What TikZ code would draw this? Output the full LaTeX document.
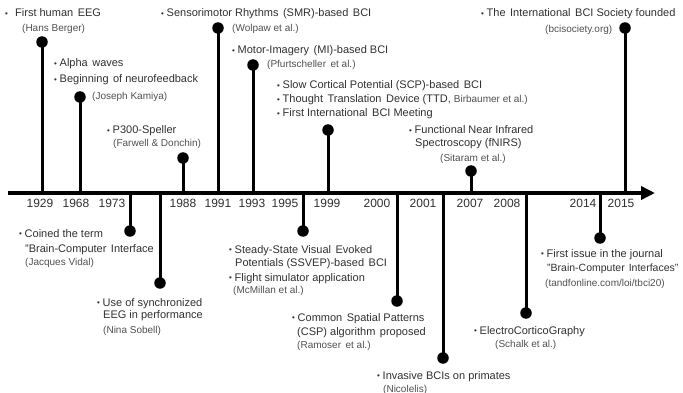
\documentclass[tikz,border=0pt]{standalone}
\usepackage{fontspec}
\setmainfont{Liberation Sans}
\usetikzlibrary{arrows.meta}
\definecolor{maintext}{HTML}{303030}
\definecolor{citetext}{HTML}{505050}
\newcommand\evbul{\makebox[5.5pt][l]{\fontsize{8}{8}\selectfont\raisebox{0.8pt}{•}}}
\newcommand\evsp{\hspace{4.5pt}}
\begin{document}
\begin{tikzpicture}[x=1pt,y=-1pt,
  ln/.style={anchor=base west, inner sep=0pt, font=\fontsize{11}{12}\selectfont, text=maintext},
  ct/.style={anchor=base west, inner sep=0pt, font=\fontsize{10}{12}\selectfont, text=citetext},
  yr/.style={anchor=base, inner sep=0pt, font=\fontsize{12}{14}\selectfont, text=maintext},
  stem/.style={line width=3pt, black},
  dot/.style={circle, fill=black, minimum size=11.5pt, inner sep=0pt},
  axisline/.style={line width=4pt, -{Triangle[length=14pt,width=13pt]}}]
\useasboundingbox (0,0) rectangle (683,393);

% axis
\coordinate (axs) at (8,193);
\coordinate (axe) at (655,193);
\draw[axisline] (axs) -- (axe);

% stems: axis points
\foreach \n/\x in {1929/42,1968/80,1973/130,1980/160,1988/183,1991/218,1993/253,1995/303,1999/328,2000/397,2001/443,2007/471,2008/526,2014/600,2015/625}
  \coordinate (a\n) at (\x,193);

% dots
\node[dot] (d1929) at (42,42) {};
\node[dot] (d1968) at (80,97) {};
\node[dot] (d1973) at (130,231) {};
\node[dot] (d1980) at (160,283) {};
\node[dot] (d1988) at (183,158) {};
\node[dot] (d1991) at (218,28) {};
\node[dot] (d1993) at (253,65) {};
\node[dot] (d1995) at (303,231) {};
\node[dot] (d1999) at (328,130) {};
\node[dot] (d2000) at (397,301) {};
\node[dot] (d2001) at (443,358) {};
\node[dot] (d2007) at (471,171) {};
\node[dot] (d2008) at (526,313) {};
\node[dot] (d2014) at (600,238) {};
\node[dot] (d2015) at (625,28) {};

\foreach \n in {1929,1968,1973,1980,1988,1991,1993,1995,1999,2000,2001,2007,2008,2014,2015}
  \draw[stem] (a\n) -- (d\n.center);

% years
\node[yr] (y1929) at (40,207.5) {1929};
\node[yr] (y1968) at (76,207.5) {1968};
\node[yr] (y1973) at (112,207.5) {1973};
\node[yr] (y1988) at (183,207.5) {1988};
\node[yr] (y1991) at (218,207.5) {1991};
\node[yr] (y1993) at (252,207.5) {1993};
\node[yr] (y1995) at (285,207.5) {1995};
\node[yr] (y1999) at (327,207.5) {1999};
\node[yr] (y2000) at (377,207.5) {2000};
\node[yr] (y2001) at (423,207.5) {2001};
\node[yr] (y2007) at (470,207.5) {2007};
\node[yr] (y2008) at (507,207.5) {2008};
\node[yr] (y2014) at (583,207.5) {2014};
\node[yr] (y2015) at (621,207.5) {2015};

% 1929
\node[ln] (t29a) at (5,17) {\makebox[10pt][l]{\fontsize{8}{8}\selectfont\raisebox{0.8pt}{•}}First human\evsp EEG};
\node[ct] (t29b) at (22,32) {(Hans Berger)};
% 1968
\node[ln] (t68a) at (54,67) {\evbul Alpha\evsp waves};
\node[ln] (t68b) at (54,83) {\evbul Beginning\evsp of neurofeedback};
\node[ct] (t68c) at (92,100) {(Joseph Kamiya)};
% 1988
\node[ln] (t88a) at (107,134) {\evbul P300-Speller};
\node[ct] (t88b) at (113,147) {(Farwell \& Donchin)};
% 1991
\node[ln] (t91a) at (161,17) {\evbul Sensorimotor Rhythms\evsp (SMR)-based\evsp BCI};
\node[ct] (t91b) at (232,32) {(Wolpaw et al.)};
% 1993
\node[ln] (t93a) at (232,54) {\evbul Motor-Imagery\evsp (MI)-based BCI};
\node[ct] (t93b) at (267,68) {(Pfurtscheller\evsp et al.)};
% 1999
\node[ln] (t99a) at (277,89) {\evbul Slow Cortical Potential (SCP)-based\evsp BCI};
\node[ln] (t99b) at (277,103) {\evbul Thought\evsp Translation\evsp Device (TTD,\ {\color{citetext}\fontsize{10}{12}\selectfont Birbaumer et al.)}};
\node[ln] (t99c) at (277,117) {\evbul First International\evsp BCI Meeting};
% 2007
\node[ln] (t07a) at (409,134) {\evbul Functional Near Infrared};
\node[ln] (t07b) at (415,147) {Spectroscopy (fNIRS)};
\node[ct] (t07c) at (440,161) {(Sitaram et al.)};
% 2015
\node[ln] (t15a) at (481,17) {\evbul The\evsp International\evsp BCI Society founded};
\node[ct] (t15b) at (545,33) {(bcisociety.org)};

% 1973
\node[ln] (t73a) at (19,237) {\evbul Coined the term};
\node[ln] (t73b) at (25,252) {"Brain-Computer\evsp Interface};
\node[ct] (t73c) at (25,265) {(Jacques Vidal)};
% Sobell
\node[ln] (t80a) at (97,306) {\evbul Use of synchronized};
\node[ln] (t80b) at (103,318) {EEG in performance};
\node[ct] (t80c) at (103,333) {(Nina Sobell)};
% 1995
\node[ln] (t95a) at (229,253) {\evbul Steady-State Visual\evsp Evoked};
\node[ln] (t95b) at (235,266) {Potentials (SSVEP)-based\evsp BCI};
\node[ln] (t95c) at (229,281) {\evbul Flight simulator application};
\node[ct] (t95d) at (233,293) {(McMillan et al.)};
% 2000
\node[ln] (t00a) at (292,321) {\evbul Common\evsp Spatial Patterns};
\node[ln] (t00b) at (297,335) {(CSP) algorithm\evsp proposed};
\node[ct] (t00c) at (297,348) {(Ramoser\evsp et al.)};
% 2001
\node[ln] (t01a) at (377,379) {\evbul Invasive BCIs on primates};
\node[ct] (t01b) at (383,392) {(Nicolelis)};
% 2008
\node[ln] (t08a) at (474,334) {\evbul ElectroCorticoGraphy};
\node[ct] (t08b) at (495,347) {(Schalk et al.)};
% 2014
\node[ln] (t14a) at (541,257) {\evbul First issue in the journal};
\node[ln] (t14b) at (547,271) {\fontsize{10.5}{12}\selectfont"Brain-Computer\hspace{4pt}Interfaces"};
\node[ct] (t14c) at (545,286) {(tandfonline.com/loi/tbci20)};
\end{tikzpicture}
\end{document}
